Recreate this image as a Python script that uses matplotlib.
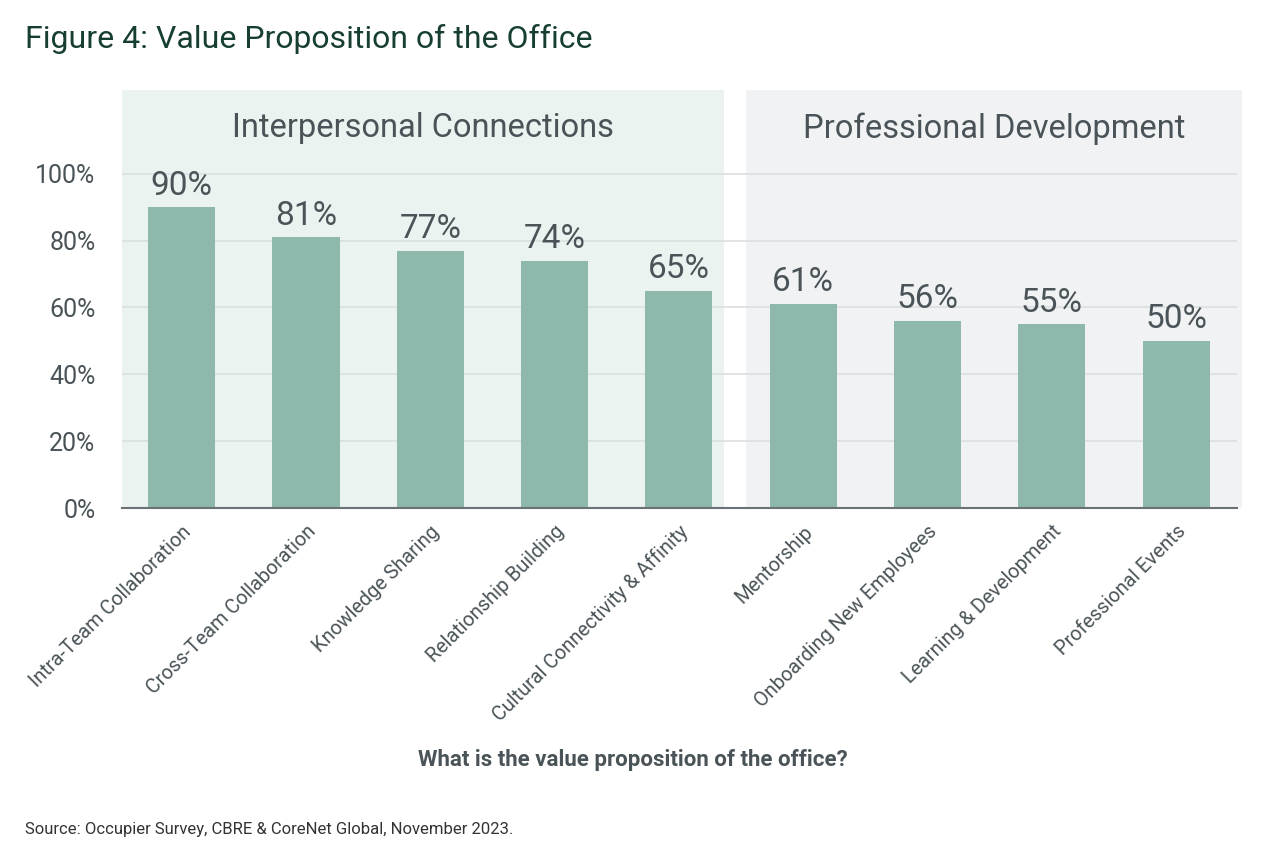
import matplotlib.pyplot as plt
import numpy as np

plt.rcParams['font.family'] = ['Roboto', 'DejaVu Sans']

# data
categories = ['Intra-Team Collaboration', 'Cross-Team Collaboration', 'Knowledge Sharing',
              'Relationship Building', 'Cultural Connectivity & Affinity', 'Mentorship',
              'Onboarding New Employees', 'Learning & Development', 'Professional Events']
values = [90, 81, 77, 74, 65, 61, 56, 55, 50]
groups = ['Interpersonal Connections', 'Professional Development']
group_sizes = [5, 4]
yticks = [0, 20, 40, 60, 80, 100]

bar_color = '#8db8ab'
text_color = '#4a5458'
title_color = '#173f30'

fig = plt.figure(figsize=(12.8, 8.6), dpi=100)
ax = fig.add_axes([0.0953, 0.4093, 0.8711, 0.486])

x = np.arange(len(categories))
ax.set_xlim(-0.48, len(categories) - 1 + 0.49)
ax.set_ylim(0, 125)

# group background panels
ax.axvspan(-0.48, group_sizes[0] - 0.64, color='#eaf3ef', zorder=0, lw=0)
ax.axvspan(group_sizes[0] - 0.46, len(categories) - 1 + 0.53, color='#f1f2f4', zorder=0, lw=0,
           clip_on=False)

for yv in yticks[1:]:
    ax.axhline(yv, color='#dcdfe0', lw=1.2, zorder=1)

ax.bar(x, values, width=0.54, color=bar_color, zorder=2)

for xi, v in zip(x, values):
    ax.annotate('{}%'.format(v), (xi, v), xytext=(0, 4), textcoords='offset points',
                ha='center', va='bottom', fontsize=24, color=text_color)

# group headers
starts = [-0.48, group_sizes[0] - 0.46]
ends = [group_sizes[0] - 0.64, len(categories) - 1 + 0.53]
for g, s, e in zip(groups, starts, ends):
    ax.text((s + e) / 2, 113.5, g, ha='center', va='center', fontsize=23.5, color=text_color)

ax.set_yticks(yticks)
ax.set_yticklabels(['{}%'.format(t) for t in yticks], fontsize=18, color=text_color)
ax.set_xticks(x)
ax.set_xticklabels(categories, rotation=45, ha='right', rotation_mode='anchor',
                   fontsize=14.3, color=text_color)
ax.tick_params(axis='both', length=0)
ax.tick_params(axis='y', pad=19)
ax.tick_params(axis='x', pad=10)

for sp in ['top', 'right', 'left']:
    ax.spines[sp].set_visible(False)
ax.spines['bottom'].set_color('#6b7275')
ax.spines['bottom'].set_linewidth(1.5)
ax.spines['bottom'].set_zorder(3)

fig.text(0.494, 0.116, 'What is the value proposition of the office?', ha='center', va='center',
         fontsize=16, fontweight='bold', color=text_color)
fig.text(0.0195, 0.955, 'Figure 4: Value Proposition of the Office', ha='left', va='center',
         fontsize=23, color=title_color)
fig.text(0.0195, 0.035, 'Source: Occupier Survey, CBRE & CoreNet Global, November 2023.',
         ha='left', va='center', fontsize=12, color='#333333')

fig.savefig('out.png', dpi=100)
